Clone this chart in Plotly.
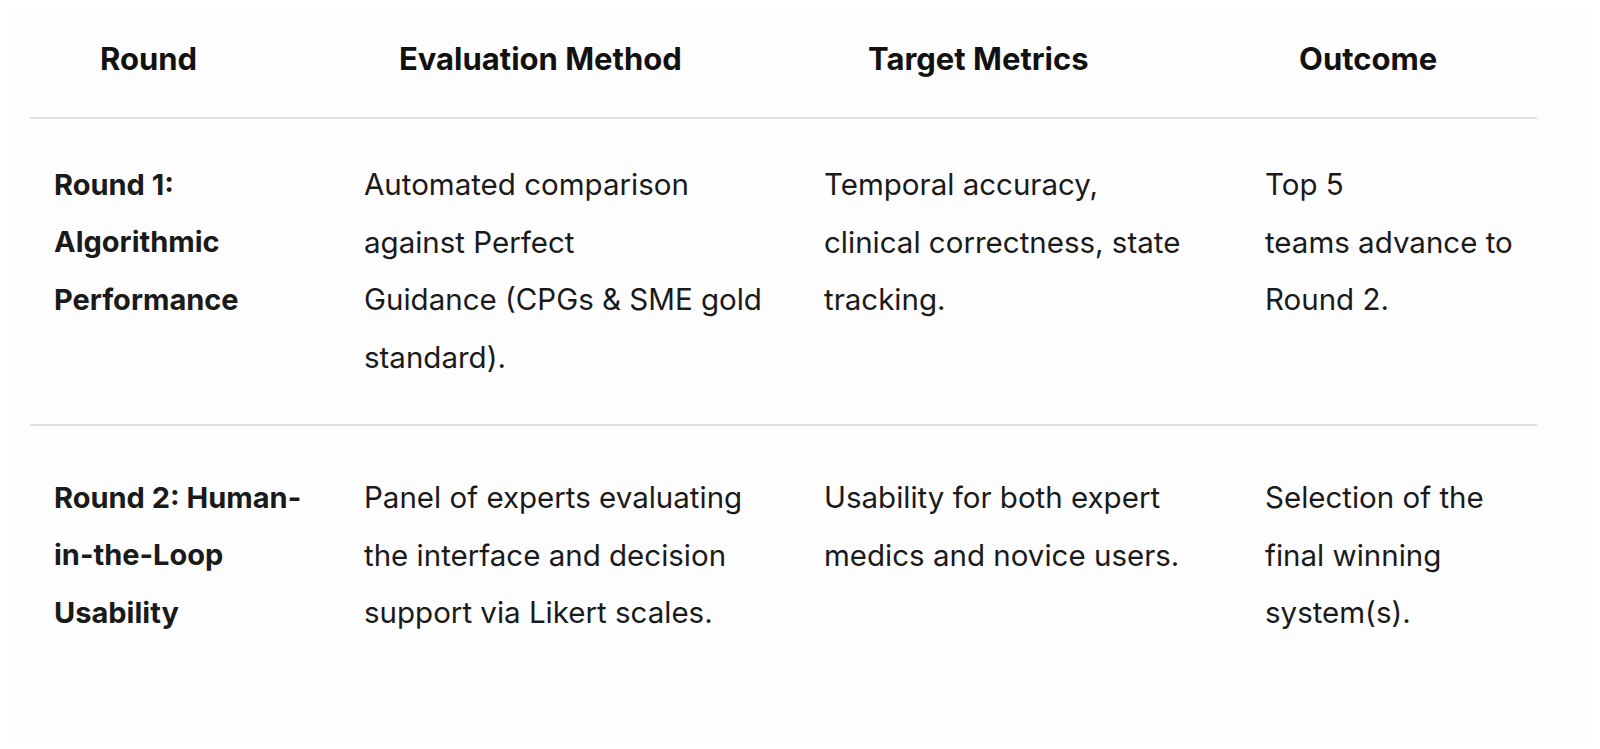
import plotly.graph_objects as go

headers = ["Round", "Evaluation Method", "Target Metrics", "Outcome"]
header_x = [148, 540, 978, 1368]
col_x = [52, 362, 822, 1263]
row1 = [
    ["Round 1:", "Algorithmic", "Performance"],
    ["Automated comparison", "against Perfect", "Guidance (CPGs & SME gold", "standard)."],
    ["Temporal accuracy,", "clinical correctness, state", "tracking."],
    ["Top 5", "teams advance to", "Round 2."],
]
row2 = [
    ["Round 2: Human-", "in-the-Loop", "Usability"],
    ["Panel of experts evaluating", "the interface and decision", "support via Likert scales."],
    ["Usability for both expert", "medics and novice users."],
    ["Selection of the", "final winning", "system(s)."],
]
row_top = [184, 497]
line_gap = 57.5
rule_y = [118, 425]

FONT = "Inter, Noto Sans, sans-serif"
fig = go.Figure()
ann = []
for h, x in zip(headers, header_x):
    ann.append(dict(x=x, y=58, text="<b>%s</b>" % h, showarrow=False, xanchor="center",
                    yanchor="middle", font=dict(size=31, color="#111", family=FONT)))
for r, (rows, y0) in enumerate(zip([row1, row2], row_top)):
    for c, lines in enumerate(rows):
        for i, t in enumerate(lines):
            txt = "<b>%s</b>" % t if c == 0 else t
            ann.append(dict(x=col_x[c], y=y0 + i * line_gap, text=txt, showarrow=False,
                            xanchor="left", yanchor="middle",
                            font=dict(size=29.5 if c else 29, color="#1a1a1a", family=FONT)))
shapes = [dict(type="line", x0=30, x1=1537, y0=y, y1=y, line=dict(color="#d4d4d4", width=1.5))
          for y in rule_y]
fig.update_layout(
    width=1584, height=733, margin=dict(l=0, r=0, t=0, b=0),
    paper_bgcolor="#fdfdfd", plot_bgcolor="#fdfdfd",
    xaxis=dict(range=[8, 1592], visible=False),
    yaxis=dict(range=[741, 8], visible=False),
    annotations=ann, shapes=shapes, showlegend=False,
)
fig.write_html("out.html")
